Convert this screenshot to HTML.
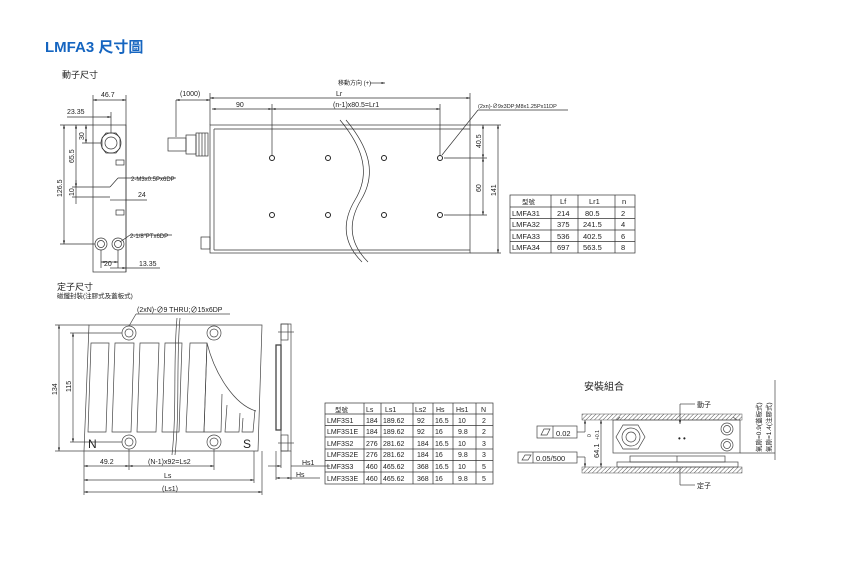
<!DOCTYPE html>
<html><head><meta charset="utf-8">
<style>
html,body{margin:0;padding:0;background:#fff;}
svg{display:block;}
text{font-family:"Liberation Sans","Noto Sans CJK TC",sans-serif;fill:#222;}
</style></head><body>
<svg width="850" height="563" viewBox="0 0 850 563" xmlns="http://www.w3.org/2000/svg">
<defs>
<marker id="a" viewBox="0 0 10 10" refX="10" refY="5" markerWidth="5" markerHeight="5" orient="auto-start-reverse"><path d="M0,2L10,5L0,8z" fill="#222"/></marker>
<pattern id="h" width="3" height="3" patternUnits="userSpaceOnUse" patternTransform="rotate(45)"><line x1="0" y1="0" x2="0" y2="3" stroke="#555" stroke-width="1"/></pattern>
</defs>
<text x="45" y="52" font-size="15" font-weight="bold" style="fill:#1565c0">LMFA3 尺寸圖</text>

<g stroke="#333" fill="none" stroke-width="0.7">
<!-- mover side view -->
<rect x="93" y="125" width="33" height="147"/>
<circle cx="111" cy="143" r="10"/><circle cx="111" cy="143" r="6"/>
<polygon points="102,138 106,133 116,133 120,138 120,148 116,153 106,153 102,148"/>
<circle cx="101" cy="244" r="6"/><circle cx="101" cy="244" r="3.5"/>
<circle cx="118" cy="244" r="6"/><circle cx="118" cy="244" r="3.5"/>
<rect x="116" y="160" width="8" height="5"/><rect x="116" y="210" width="8" height="5"/>
<!-- dims mover side -->
<line x1="93" y1="100" x2="126" y2="100" marker-start="url(#a)" marker-end="url(#a)"/>
<line x1="93" y1="95" x2="93" y2="125"/><line x1="126" y1="95" x2="126" y2="272"/>
<line x1="67" y1="117" x2="111" y2="117" marker-end="url(#a)"/>
<line x1="111" y1="112" x2="111" y2="133"/>
<line x1="64" y1="125" x2="64" y2="244" marker-start="url(#a)" marker-end="url(#a)"/>
<line x1="60" y1="125" x2="93" y2="125"/><line x1="60" y1="244" x2="95" y2="244"/>
<line x1="76" y1="125" x2="76" y2="187" marker-start="url(#a)" marker-end="url(#a)"/>
<line x1="86" y1="125" x2="86" y2="143" marker-start="url(#a)" marker-end="url(#a)"/>
<line x1="82" y1="143" x2="101" y2="143"/>
<line x1="72" y1="187" x2="110" y2="187"/><line x1="72" y1="197" x2="110" y2="197"/>
<line x1="76" y1="180" x2="76" y2="204"/>
<line x1="110" y1="200" x2="126" y2="200"/><line x1="126" y1="200" x2="147" y2="200"/>
<line x1="110" y1="187" x2="118" y2="178"/><line x1="118" y1="178" x2="176" y2="178"/>
<line x1="120" y1="242" x2="130" y2="235"/><line x1="130" y1="235" x2="172" y2="235"/>
<line x1="101" y1="250" x2="101" y2="268"/><line x1="118" y1="250" x2="118" y2="268"/>
<line x1="101" y1="262" x2="118" y2="262" marker-start="url(#a)" marker-end="url(#a)"/>
<line x1="126" y1="268" x2="160" y2="268"/><line x1="110" y1="268" x2="126" y2="268" marker-end="url(#a)"/>

<!-- main top view -->
<rect x="210" y="125" width="260" height="128"/>
<line x1="214" y1="129" x2="470" y2="129"/><line x1="214" y1="129" x2="214" y2="250"/>
<line x1="214" y1="250" x2="470" y2="250"/>
<path d="M340 120 C365 150,370 175,355 200 C340 225,345 245,362 262"/>
<path d="M346 120 C371 150,376 175,361 200 C346 225,351 245,368 262"/>
<rect x="168" y="138" width="18" height="13"/>
<rect x="186" y="135" width="10" height="19"/><rect x="196" y="133" width="12" height="23"/>
<line x1="199" y1="133" x2="199" y2="156"/><line x1="202" y1="133" x2="202" y2="156"/><line x1="205" y1="133" x2="205" y2="156"/>
<rect x="201" y="237" width="9" height="12"/>
<line x1="176" y1="100" x2="176" y2="137"/><line x1="210" y1="93" x2="210" y2="125"/>
<line x1="176" y1="100" x2="210" y2="100" marker-start="url(#a)" marker-end="url(#a)"/>
<line x1="210" y1="98" x2="470" y2="98" marker-start="url(#a)" marker-end="url(#a)"/>
<line x1="470" y1="93" x2="470" y2="125"/>
<line x1="212" y1="109" x2="272" y2="109" marker-start="url(#a)" marker-end="url(#a)"/>
<line x1="272" y1="109" x2="440" y2="109" marker-start="url(#a)" marker-end="url(#a)"/>
<line x1="272" y1="104" x2="272" y2="155"/><line x1="440" y1="104" x2="440" y2="155"/>
<line x1="442" y1="155" x2="478" y2="110"/><line x1="478" y1="110" x2="568" y2="110"/>
<line x1="444" y1="158" x2="487" y2="158"/><line x1="444" y1="215" x2="487" y2="215"/>
<line x1="470" y1="125" x2="501" y2="125"/><line x1="470" y1="253" x2="501" y2="253"/>
<line x1="483" y1="125" x2="483" y2="158" marker-start="url(#a)" marker-end="url(#a)"/>
<line x1="483" y1="158" x2="483" y2="215" marker-start="url(#a)" marker-end="url(#a)"/>
<line x1="498" y1="125" x2="498" y2="253" marker-start="url(#a)" marker-end="url(#a)"/>
<line x1="370" y1="83" x2="385" y2="83" marker-end="url(#a)"/>
</g>
<g fill="none" stroke="#222" stroke-width="1">
<circle cx="272" cy="158" r="2.5"/><circle cx="328" cy="158" r="2.5"/><circle cx="384" cy="158" r="2.5"/><circle cx="440" cy="158" r="2.5"/>
<circle cx="272" cy="215" r="2.5"/><circle cx="328" cy="215" r="2.5"/><circle cx="384" cy="215" r="2.5"/><circle cx="440" cy="215" r="2.5"/>
</g>
<g font-size="7">
<text x="62" y="78" font-size="9">動子尺寸</text>
<text x="101" y="97">46.7</text>
<text x="67" y="114">23.35</text>
<text x="131" y="181" font-size="6">2-M3x0.5Px6DP</text>
<text x="138" y="197">24</text>
<text x="130" y="238" font-size="6">2-1/8"PTx6DP</text>
<text x="104" y="266">20</text>
<text x="139" y="266">13.35</text>
<text transform="translate(62,197) rotate(-90)">126.5</text>
<text transform="translate(74,163) rotate(-90)">65.5</text>
<text transform="translate(84,140) rotate(-90)">30</text>
<text transform="translate(74,196) rotate(-90)">10</text>
<text x="180" y="96">(1000)</text>
<text x="338" y="85" font-size="6">移動方向 (+)</text>
<text x="336" y="96">Lr</text>
<text x="236" y="107">90</text>
<text x="333" y="107">(n-1)x80.5=Lr1</text>
<text x="478" y="108" font-size="5.5">(2xn)-∅9x3DP;M8x1.25Px11DP</text>
<text transform="translate(481,148) rotate(-90)">40.5</text>
<text transform="translate(481,192) rotate(-90)">60</text>
<text transform="translate(496,196) rotate(-90)">141</text>
</g>

<!-- table 1 -->
<g stroke="#333" stroke-width="0.7" fill="none">
<rect x="510" y="195" width="125" height="58"/>
<line x1="510" y1="207" x2="635" y2="207"/><line x1="510" y1="218.5" x2="635" y2="218.5"/><line x1="510" y1="230" x2="635" y2="230"/><line x1="510" y1="241.5" x2="635" y2="241.5"/>
<line x1="551" y1="195" x2="551" y2="253"/><line x1="578" y1="195" x2="578" y2="253"/><line x1="615" y1="195" x2="615" y2="253"/>
</g>
<g font-size="7.5">
<text x="522" y="204" font-size="6.5">型號</text><text x="560" y="204">Lf</text><text x="589" y="204">Lr1</text><text x="622" y="204">n</text>
<text x="512" y="216">LMFA31</text><text x="557" y="216">214</text><text x="585" y="216">80.5</text><text x="621" y="216">2</text>
<text x="512" y="227">LMFA32</text><text x="557" y="227">375</text><text x="583" y="227">241.5</text><text x="621" y="227">4</text>
<text x="512" y="239">LMFA33</text><text x="557" y="239">536</text><text x="583" y="239">402.5</text><text x="621" y="239">6</text>
<text x="512" y="250">LMFA34</text><text x="557" y="250">697</text><text x="583" y="250">563.5</text><text x="621" y="250">8</text>
</g>

<!-- stator -->
<text x="57" y="290" font-size="9">定子尺寸</text>
<text x="57" y="298" font-size="6.5">磁鐵封裝(注膠式及蓋板式)</text>
<g stroke="#444" stroke-width="0.7" fill="none">
<polygon points="89,325 262,325 258,451 84,451"/>
<polygon points="91,343 109,343 106,432 88,432"/>
<polygon points="115,343 134,343 131,432 112,432"/>
<polygon points="140,343 159,343 156,432 137,432"/>
<polygon points="165,343 182,343 179,432 162,432"/>
<polygon points="190,343 207,343 204,432 186,432"/>
<path d="M207,343 L204,432 L221,432 L222,394"/>
<path d="M227,405 L225,432 L239,432 L240,413"/>
<path d="M243,418 L242,432 L253,432 L255,410"/>
<path d="M207,343 C215,375 235,405 256,411"/>
<path d="M177,318 C173,360 177,410 172,455"/><path d="M180,318 C176,360 180,410 175,455"/>
<circle cx="129" cy="333" r="7"/><circle cx="129" cy="333" r="4"/>
<circle cx="214" cy="333" r="7"/><circle cx="214" cy="333" r="4"/>
<circle cx="129" cy="442" r="7"/><circle cx="129" cy="442" r="4"/>
<circle cx="214" cy="442" r="7"/><circle cx="214" cy="442" r="4"/>
<line x1="129" y1="326" x2="136" y2="314"/><line x1="136" y1="314" x2="230" y2="314"/>
<line x1="55" y1="325" x2="89" y2="325"/><line x1="55" y1="451" x2="84" y2="451"/>
<line x1="59" y1="325" x2="59" y2="451" marker-start="url(#a)" marker-end="url(#a)"/>
<line x1="70" y1="333" x2="122" y2="333"/><line x1="70" y1="442" x2="122" y2="442"/>
<line x1="73" y1="333" x2="73" y2="442" marker-start="url(#a)" marker-end="url(#a)"/>
<line x1="84" y1="451" x2="84" y2="495"/><line x1="129" y1="449" x2="129" y2="470"/><line x1="214" y1="449" x2="214" y2="470"/>
<line x1="254" y1="451" x2="254" y2="483"/><line x1="262" y1="451" x2="262" y2="495"/>
<line x1="84" y1="466" x2="129" y2="466" marker-start="url(#a)" marker-end="url(#a)"/>
<line x1="129" y1="466" x2="214" y2="466" marker-start="url(#a)" marker-end="url(#a)"/>
<line x1="84" y1="480" x2="254" y2="480" marker-start="url(#a)" marker-end="url(#a)"/>
<line x1="84" y1="492" x2="262" y2="492" marker-start="url(#a)" marker-end="url(#a)"/>
<!-- side view -->
<rect x="281" y="324" width="10" height="127"/>
<rect x="276" y="345" width="5" height="85" stroke-width="1.3"/>
<rect x="281" y="324" width="7" height="16"/><rect x="281" y="435" width="7" height="16"/>
<line x1="278" y1="332" x2="294" y2="332"/><line x1="278" y1="443" x2="294" y2="443"/>
<line x1="276" y1="451" x2="276" y2="480"/><line x1="281" y1="451" x2="281" y2="468"/><line x1="291" y1="451" x2="291" y2="480"/>
<line x1="268" y1="466" x2="281" y2="466" marker-end="url(#a)"/><line x1="291" y1="466" x2="330" y2="466"/>
<line x1="276" y1="478" x2="291" y2="478" marker-start="url(#a)" marker-end="url(#a)"/><line x1="291" y1="478" x2="320" y2="478"/>
</g>
<g font-size="7">
<text x="137" y="312">(2xN)-∅9 THRU;∅15x6DP</text>
<text transform="translate(57,395) rotate(-90)">134</text>
<text transform="translate(71,392) rotate(-90)">115</text>
<text x="88" y="448" font-size="12">N</text><text x="243" y="448" font-size="12">S</text>
<text x="100" y="464">49.2</text>
<text x="148" y="464">(N-1)x92=Ls2</text>
<text x="164" y="478">Ls</text>
<text x="162" y="491">(Ls1)</text>
<text x="302" y="465">Hs1</text>
<text x="296" y="477">Hs</text>
</g>

<!-- table 2 -->
<g stroke="#333" stroke-width="0.7" fill="none">
<rect x="325" y="403" width="168" height="81"/>
<line x1="325" y1="414" x2="493" y2="414"/><line x1="325" y1="425.5" x2="493" y2="425.5"/><line x1="325" y1="437" x2="493" y2="437"/><line x1="325" y1="449" x2="493" y2="449"/><line x1="325" y1="460.5" x2="493" y2="460.5"/><line x1="325" y1="472" x2="493" y2="472"/>
<line x1="364" y1="403" x2="364" y2="484"/><line x1="381" y1="403" x2="381" y2="484"/><line x1="413" y1="403" x2="413" y2="484"/><line x1="433" y1="403" x2="433" y2="484"/><line x1="453" y1="403" x2="453" y2="484"/><line x1="476" y1="403" x2="476" y2="484"/>
</g>
<g font-size="7">
<text x="335" y="412" font-size="6.5">型號</text><text x="366" y="412">Ls</text><text x="385" y="412">Ls1</text><text x="415" y="412">Ls2</text><text x="436" y="412">Hs</text><text x="456" y="412">Hs1</text><text x="481" y="412">N</text>
<text x="327" y="423">LMF3S1</text><text x="366" y="423">184</text><text x="383" y="423">189.62</text><text x="417" y="423">92</text><text x="435" y="423">16.5</text><text x="458" y="423">10</text><text x="482" y="423">2</text>
<text x="327" y="434">LMF3S1E</text><text x="366" y="434">184</text><text x="383" y="434">189.62</text><text x="417" y="434">92</text><text x="435" y="434">16</text><text x="458" y="434">9.8</text><text x="482" y="434">2</text>
<text x="327" y="446">LMF3S2</text><text x="366" y="446">276</text><text x="383" y="446">281.62</text><text x="417" y="446">184</text><text x="435" y="446">16.5</text><text x="458" y="446">10</text><text x="482" y="446">3</text>
<text x="327" y="457">LMF3S2E</text><text x="366" y="457">276</text><text x="383" y="457">281.62</text><text x="417" y="457">184</text><text x="435" y="457">16</text><text x="458" y="457">9.8</text><text x="482" y="457">3</text>
<text x="327" y="469">LMF3S3</text><text x="366" y="469">460</text><text x="383" y="469">465.62</text><text x="417" y="469">368</text><text x="435" y="469">16.5</text><text x="458" y="469">10</text><text x="482" y="469">5</text>
<text x="327" y="481">LMF3S3E</text><text x="366" y="481">460</text><text x="383" y="481">465.62</text><text x="417" y="481">368</text><text x="435" y="481">16</text><text x="458" y="481">9.8</text><text x="482" y="481">5</text>
</g>

<!-- assembly -->
<text x="584" y="390" font-size="10">安裝組合</text>
<rect x="582" y="414" width="160" height="6" fill="url(#h)" stroke="#555" stroke-width="0.5"/>
<rect x="582" y="467" width="160" height="6" fill="url(#h)" stroke="#555" stroke-width="0.5"/>
<g stroke="#444" stroke-width="0.7" fill="none">
<rect x="613" y="420" width="127" height="33"/>
<line x1="617" y1="420" x2="620" y2="417"/><line x1="733" y1="417" x2="737" y2="420"/>
<polygon points="623,425 638,425 645,437 638,449 623,449 616,437"/>
<circle cx="631" cy="437" r="9"/><circle cx="631" cy="437" r="5"/>
<circle cx="727" cy="429" r="6"/><circle cx="727" cy="429" r="3.5"/>
<circle cx="727" cy="445" r="6"/><circle cx="727" cy="445" r="3.5"/>
<rect x="630" y="456" width="95" height="6"/><line x1="677" y1="456" x2="677" y2="462"/>
<rect x="617" y="462" width="121" height="5"/>
<line x1="601" y1="420" x2="601" y2="467" marker-start="url(#a)" marker-end="url(#a)"/>
<line x1="680" y1="404" x2="695" y2="404"/><line x1="680" y1="404" x2="680" y2="424" marker-end="url(#a)"/>
<line x1="680" y1="467" x2="680" y2="485"/><line x1="680" y1="485" x2="695" y2="485"/>
<rect x="537" y="426" width="40" height="12"/><line x1="553" y1="426" x2="553" y2="438"/>
<polygon points="541,435 544,429 550,429 547,435"/>
<line x1="577" y1="432" x2="585" y2="432"/><line x1="585" y1="432" x2="585" y2="420" marker-end="url(#a)"/>
<rect x="518" y="452" width="59" height="11"/><line x1="533" y1="452" x2="533" y2="463"/>
<polygon points="522,460 525,455 531,455 528,460"/>
<line x1="577" y1="457" x2="585" y2="457"/><line x1="585" y1="457" x2="585" y2="467" marker-end="url(#a)"/>
<line x1="740" y1="453" x2="775" y2="453"/><line x1="775" y1="380" x2="775" y2="460"/>
</g>
<g font-size="7.5">
<text x="556" y="436">0.02</text>
<text x="536" y="461">0.05/500</text>
<text x="697" y="407" font-size="7">動子</text>
<text x="697" y="488" font-size="7">定子</text>
<text transform="translate(599,458) rotate(-90)">64.1</text>
<text transform="translate(599,440) rotate(-90)" font-size="5">+0.1</text>
<text transform="translate(591,437) rotate(-90)" font-size="5">0</text>
<text transform="translate(761,452) rotate(-90)" font-size="6.5">氣隙=0.9(蓋板式)</text>
<text transform="translate(771,452) rotate(-90)" font-size="6.5">氣隙=1.4(注膠式)</text>
<text x="678" y="441" font-size="8">• •</text>
</g>
</svg>
</body></html>
